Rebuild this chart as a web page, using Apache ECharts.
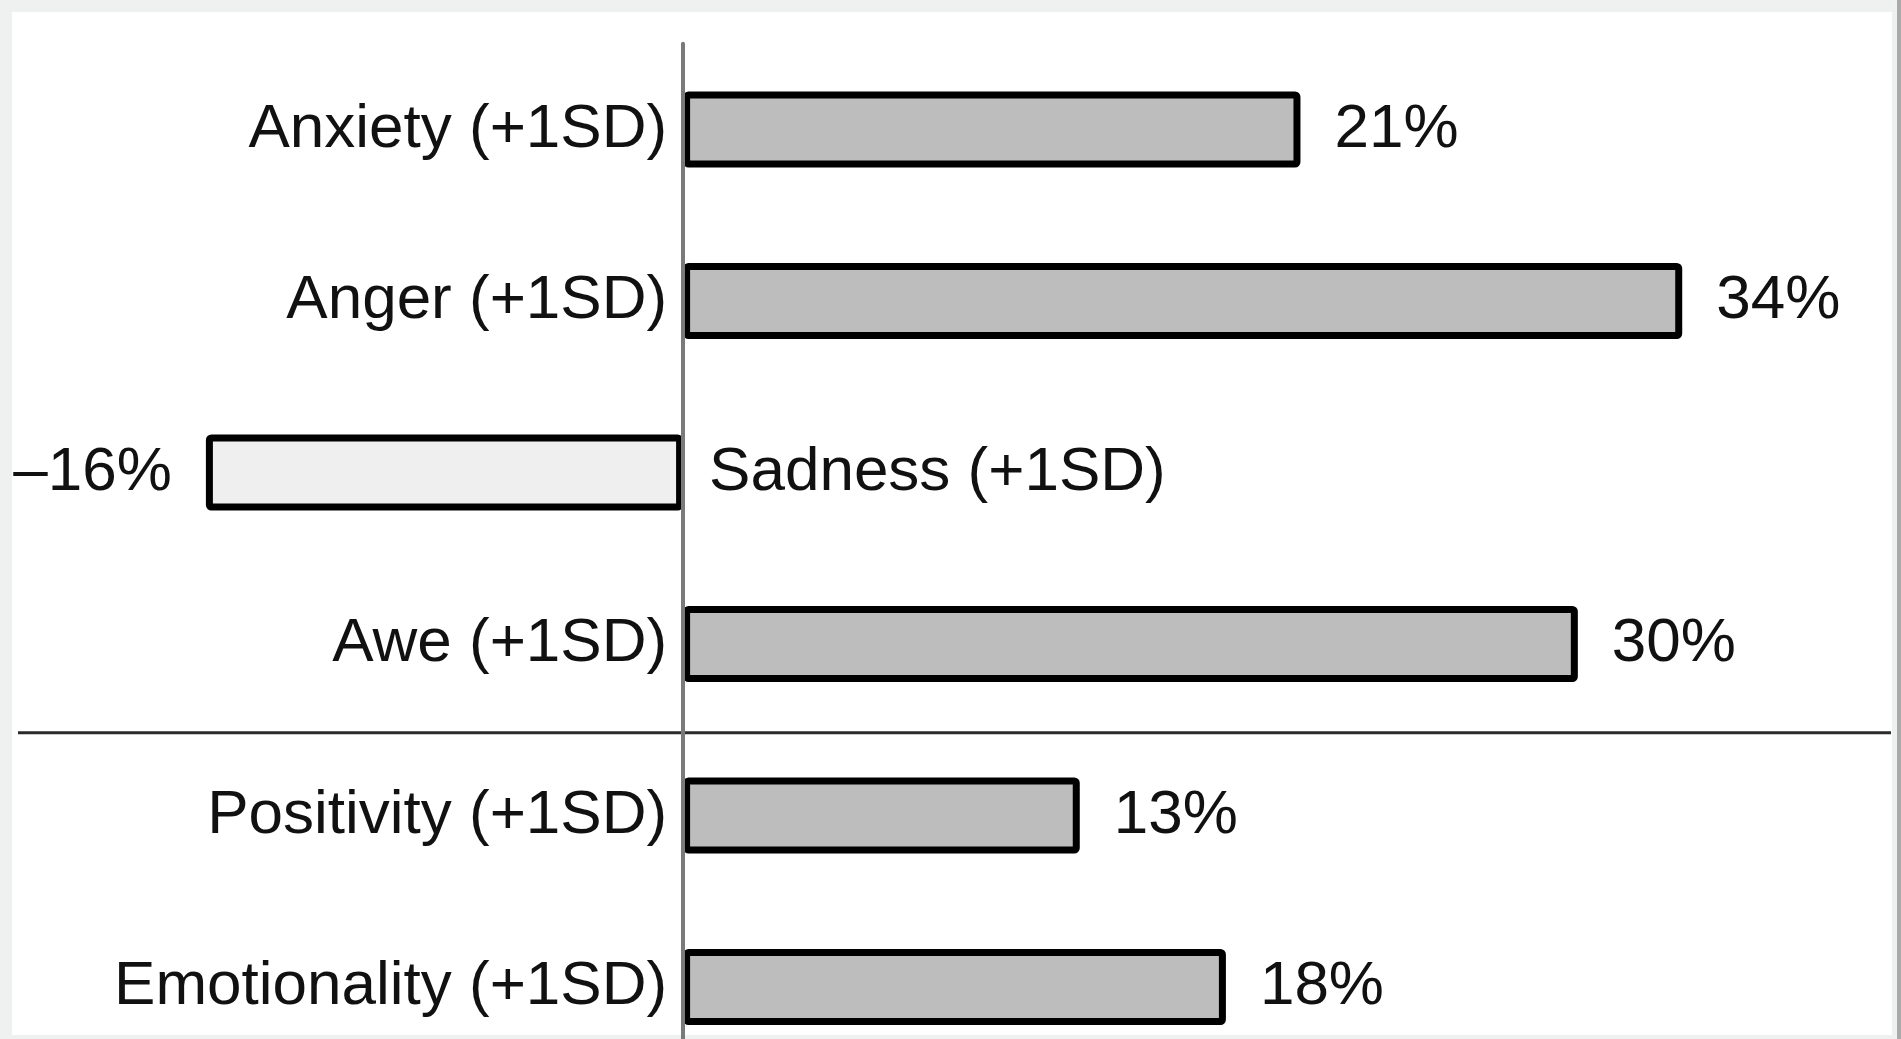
<!DOCTYPE html>
<html lang="en">
<head>
    <meta charset="UTF-8">
    <title>Emotion effects</title>
    <script src="https://cdn.jsdelivr.net/npm/echarts@6/dist/echarts.min.js"></script>
    <style>
        html, body { margin: 0; padding: 0; background: #eff1f0; }
    </style>
</head>
<body>
    <div id="chart1" style="width: 1901px;height: 1039px;"></div>
    <script type="text/javascript">
        // data (bar lengths), labels show rounded values
        var categories = ['Anxiety (+1SD)', 'Anger (+1SD)', 'Sadness (+1SD)', 'Awe (+1SD)', 'Positivity (+1SD)', 'Emotionality (+1SD)'];
        var effects = [20.7, 33.5, -16.0, 30.0, 13.3, 18.2];
        // the divider goes between these two rows
        var dividerAfter = 'Awe (+1SD)';
        var dividerBefore = 'Positivity (+1SD)';
        var posColor = '#bdbdbd';
        var negColor = '#efefef';

        var chart1 = echarts.init(document.getElementById('chart1'));

        function fmtPct(v) {
            return v < 0 ? '\u2013' + Math.round(-v) + '%' : Math.round(v) + '%';
        }

        var barData = effects.map(function (v) {
            return {
                value: v,
                itemStyle: { color: v < 0 ? negColor : posColor },
                label: { position: v < 0 ? 'left' : 'right' }
            };
        });
        // category names sit on the opposite side of the zero line from the bar
        var nameData = effects.map(function (v, i) {
            return {
                value: v,
                label: {
                    position: v < 0 ? 'right' : 'left',
                    distance: v < 0 ? 26 : 16,
                    formatter: categories[i]
                }
            };
        });

        var font = '"Liberation Sans", Arial, Helvetica, sans-serif';

        var option = {
            backgroundColor: '#eff1f0',
            animation: false,
            graphic: {
                elements: [{
                    id: 'panel', type: 'rect', z: -10, silent: true,
                    shape: { x: 12, y: 12, width: 1880, height: 1023 },
                    style: { fill: '#ffffff' }
                }, {
                    id: 'edge', type: 'rect', z: -10, silent: true,
                    shape: { x: 1897, y: 0, width: 4, height: 1039 },
                    style: { fill: '#a9a9a9' }
                }]
            },
            grid: {
                left: 18,
                right: 10,
                top: 43.75,
                bottom: -33.75,
                outerBoundsMode: 'none',
                containLabel: false
            },
            xAxis: {
                type: 'value',
                min: -22.3,
                max: 40.5,
                show: false
            },
            yAxis: {
                type: 'category',
                inverse: true,
                data: categories,
                z: 10,
                axisLine: {
                    show: true,
                    onZero: true,
                    lineStyle: { color: '#7a7a7a', width: 4 }
                },
                axisTick: { show: false },
                axisLabel: { show: false },
                splitLine: { show: false }
            },
            series: [{
                name: 'effect',
                type: 'bar',
                barWidth: 76,
                barGap: '-100%',
                data: barData,
                itemStyle: {
                    borderColor: '#000',
                    borderWidth: 7,
                    borderRadius: 2
                },
                label: {
                    show: true,
                    distance: 34,
                    fontFamily: font,
                    fontSize: 62,
                    color: '#111',
                    formatter: function (p) { return fmtPct(p.value); }
                }
            }, {
                name: 'names',
                type: 'bar',
                barWidth: 76,
                barGap: '-100%',
                silent: true,
                data: nameData,
                itemStyle: { color: 'rgba(0,0,0,0)', borderWidth: 0 },
                label: {
                    show: true,
                    fontFamily: font,
                    fontSize: 62,
                    color: '#111'
                }
            }]
        };

        chart1.setOption(option);

        // divider line halfway between the two rows, from the axis scale
        var yA = chart1.convertToPixel({ yAxisIndex: 0 }, dividerAfter);
        var yB = chart1.convertToPixel({ yAxisIndex: 0 }, dividerBefore);
        var yDiv = (yA + yB) / 2 + 3;
        chart1.setOption({
            graphic: {
                elements: [{
                    id: 'divider', type: 'line', z: 5, silent: true,
                    shape: { x1: 18, y1: yDiv, x2: 1891, y2: yDiv },
                    style: { stroke: '#2a2a2a', lineWidth: 3 }
                }]
            }
        });
    </script>
</body>
</html>
